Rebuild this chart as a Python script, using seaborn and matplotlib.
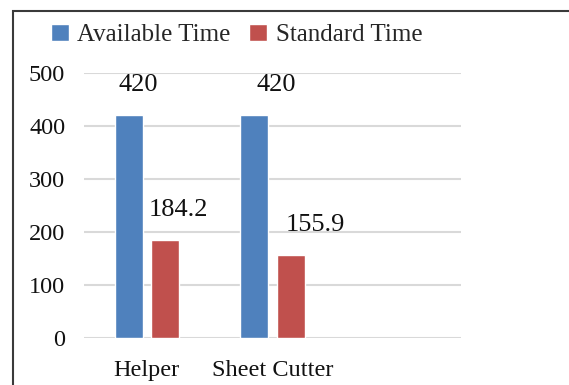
import matplotlib
matplotlib.use("Agg")
import matplotlib.pyplot as plt
from matplotlib.patches import Rectangle
import seaborn as sns
import pandas as pd

# Chart data
categories = ["Helper", "Sheet Cutter"]
series_names = ["Available Time", "Standard Time"]
available_time = [420, 420]
standard_time = [184.2, 155.9]
y_ticks = [0, 100, 200, 300, 400, 500]

colors = ["#4F81BD", "#C0504D"]

df = pd.DataFrame({
    "Category": categories * 2,
    "Series": [series_names[0]] * len(categories) + [series_names[1]] * len(categories),
    "Value": available_time + standard_time,
})

sns.set_theme(style="white")
plt.rcParams["font.family"] = ["Liberation Serif", "DejaVu Serif"]

fig = plt.figure(figsize=(5.69, 3.85), dpi=100)
ax = fig.add_axes([84 / 569, 1 - 338 / 385, (461 - 84) / 569, (338 - 73) / 385])

sns.barplot(data=df, x="Category", y="Value", hue="Series", order=categories,
            hue_order=series_names, palette=colors, width=0.58, gap=0.23,
            saturation=1, ax=ax, legend=True)

ax.set_xlim(-0.5, 2.5)
ax.set_ylim(0, 500)
ax.set_yticks(y_ticks)
ax.set_yticklabels([str(t) for t in y_ticks])
ax.set_xlabel("")
ax.set_ylabel("")
ax.yaxis.grid(True, color="#D9D9D9", linewidth=1.5)
ax.set_axisbelow(True)
for s in ax.spines.values():
    s.set_visible(False)
ax.tick_params(axis="both", length=0, labelsize=17.5, colors="#111111")
ax.tick_params(axis="y", pad=13.5)
ax.tick_params(axis="x", pad=16)

# Value labels above each bar
offsets = [[10, 22], [13, 25]]
for ci, cont in enumerate(ax.containers):
    for bi, bar in enumerate(cont):
        h = bar.get_height()
        txt = f"{h:g}"
        ax.annotate(txt, xy=(bar.get_x() + bar.get_width() / 2, h),
                    xytext=(offsets[ci][bi], 30), textcoords="offset pixels",
                    ha="center", va="center", fontsize=19, color="#111111")

# Legend across the top
handles, labels = ax.get_legend_handles_labels()
ax.get_legend().remove()
fig.legend(handles, labels, loc="center left", bbox_to_anchor=(51 / 569, 1 - 35 / 385),
           ncol=2, frameon=False, fontsize=18, handlelength=0.7, handleheight=0.7,
           handletextpad=0.35, columnspacing=0.75, borderaxespad=0, borderpad=0)

# Outer frame
fig.patches.append(Rectangle((13 / 569, -0.1), 1.2, 1 - 11 / 385 + 0.1,
                             transform=fig.transFigure, fill=False,
                             edgecolor="#3a3a3a", linewidth=1.5, clip_on=False))

fig.savefig("out.png", dpi=100)
